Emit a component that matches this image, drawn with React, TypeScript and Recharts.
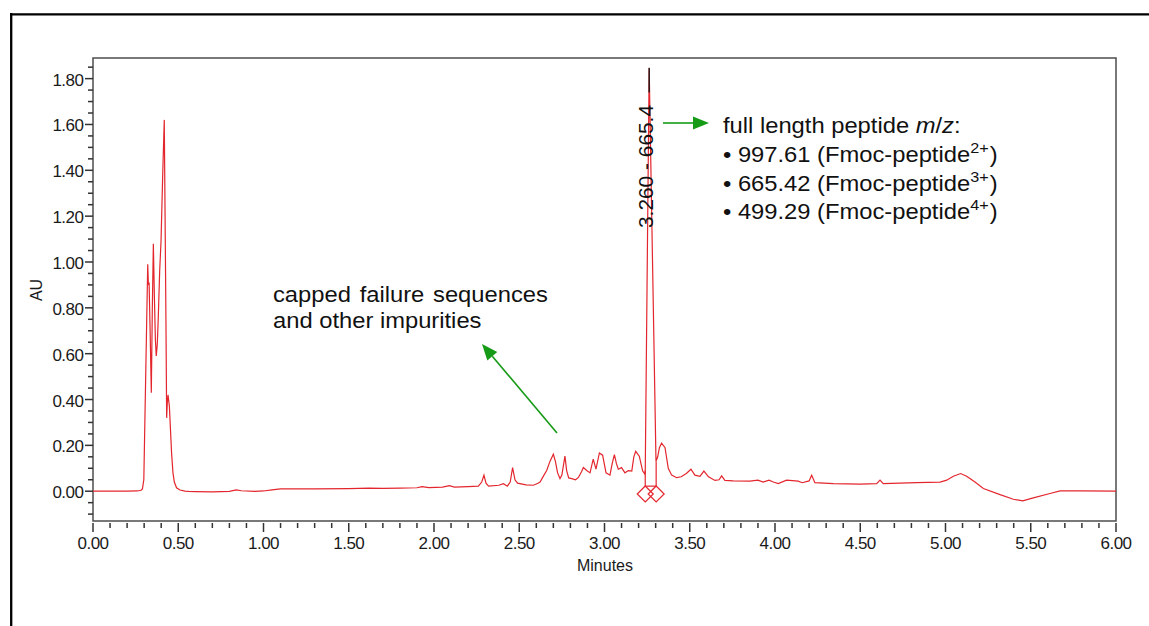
import { ComposedChart, Line, XAxis, YAxis, ReferenceArea, ReferenceLine, ReferenceDot } from 'recharts';

// chromatogram trace, [minutes, AU]
const solventFront: [number, number][] = [
  [0.0, 0.0], [0.1, 0.0], [0.2, 0.0], [0.26, 0.001], [0.282, 0.004], [0.29, 0.01], [0.298, 0.05],
  [0.321, 0.99], [0.325, 0.9], [0.329, 0.91], [0.335, 0.7], [0.342, 0.43], [0.348, 0.8], [0.354, 1.08],
  [0.36, 0.85], [0.366, 0.66], [0.371, 0.59], [0.377, 0.64], [0.383, 0.76], [0.391, 0.96], [0.399, 1.09],
  [0.409, 1.385], [0.418, 1.62], [0.424, 1.09], [0.428, 0.73], [0.432, 0.32], [0.436, 0.39], [0.44, 0.42],
  [0.448, 0.37], [0.455, 0.26], [0.461, 0.165], [0.469, 0.08], [0.477, 0.04], [0.49, 0.015], [0.51, 0.005],
  [0.54, 0.0], [0.56, -0.001],
];

const impurityRegion: [number, number][] = [
  [0.6, -0.002], [0.7, -0.003], [0.8, -0.001], [0.84, 0.006], [0.87, 0.002], [0.95, -0.001], [1.0, 0.001],
  [1.05, 0.006], [1.1, 0.01], [1.3, 0.01], [1.5, 0.011], [1.62, 0.013], [1.7, 0.012], [1.8, 0.013],
  [1.9, 0.015], [1.93, 0.02], [1.97, 0.016], [2.05, 0.018], [2.09, 0.024], [2.12, 0.018], [2.2, 0.02],
  [2.26, 0.022], [2.28, 0.04], [2.293, 0.07], [2.305, 0.035], [2.32, 0.022], [2.38, 0.026], [2.407, 0.033],
  [2.43, 0.022], [2.447, 0.04], [2.461, 0.103], [2.475, 0.05], [2.49, 0.035], [2.54, 0.028], [2.583, 0.026],
  [2.61, 0.035], [2.622, 0.04], [2.645, 0.07], [2.661, 0.09], [2.68, 0.13], [2.7, 0.161], [2.712, 0.13],
  [2.725, 0.08], [2.739, 0.055], [2.75, 0.07], [2.768, 0.153], [2.778, 0.09], [2.79, 0.058], [2.808, 0.055],
  [2.83, 0.05], [2.847, 0.06], [2.865, 0.085], [2.876, 0.103], [2.896, 0.09], [2.915, 0.08], [2.934, 0.14],
  [2.95, 0.096], [2.97, 0.167], [2.989, 0.157], [3.009, 0.08], [3.032, 0.07], [3.045, 0.12], [3.058, 0.16],
  [3.07, 0.12], [3.081, 0.096], [3.1, 0.103], [3.12, 0.08], [3.14, 0.09], [3.16, 0.088], [3.172, 0.15],
  [3.183, 0.174], [3.204, 0.153], [3.224, 0.088], [3.236, 0.075],
];

const mainPeak: [number, number][] = [
  [3.239, 0.09], [3.262, 1.845], [3.302, 0.13],
];

const lateRegion: [number, number][] = [
  [3.312, 0.15], [3.322, 0.19], [3.335, 0.21], [3.355, 0.19], [3.374, 0.1], [3.394, 0.07], [3.423, 0.059],
  [3.45, 0.063], [3.48, 0.077], [3.507, 0.096], [3.53, 0.07], [3.56, 0.065], [3.583, 0.088], [3.61, 0.063],
  [3.648, 0.047], [3.672, 0.05], [3.687, 0.067], [3.706, 0.047], [3.755, 0.045], [3.853, 0.044], [3.9, 0.048],
  [3.93, 0.04], [3.965, 0.048], [3.99, 0.04], [4.019, 0.033], [4.068, 0.048], [4.136, 0.044], [4.16, 0.037],
  [4.2, 0.045], [4.215, 0.07], [4.234, 0.037], [4.342, 0.033], [4.499, 0.031], [4.596, 0.033], [4.616, 0.048],
  [4.635, 0.033], [4.831, 0.037], [4.968, 0.04], [5.007, 0.048], [5.046, 0.065], [5.089, 0.077], [5.124, 0.065],
  [5.173, 0.04], [5.222, 0.012], [5.32, -0.015], [5.398, -0.035], [5.453, -0.042], [5.515, -0.029],
  [5.613, -0.01], [5.672, 0.001], [5.8, 0.001], [6.0, 0.0],
];

// integration markers for the main peak
const peakMarkers = [3.239, 3.303];
const peakDrop = [0.09, 0.13];
const integrationLevel = 0.022;
const markerLevel = -0.012;
const apexTime = 3.262;
const apexTip = [1.74, 1.848];

const xMajorTicks = [0, 0.5, 1, 1.5, 2, 2.5, 3, 3.5, 4, 4.5, 5, 5.5, 6];
const yMajorTicks = [0, 0.2, 0.4, 0.6, 0.8, 1.0, 1.2, 1.4, 1.6, 1.8];
const xTicks = Array.from({ length: 61 }, (_, i) => +(i * 0.1).toFixed(1));
const yTicks = Array.from({ length: 40 }, (_, i) => +(-0.1 + i * 0.05).toFixed(2));

const chromData = [...solventFront, ...impurityRegion, ...mainPeak, ...lateRegion].map(([t, au]) => ({ t, au }));

const FONT = "'Liberation Sans', Arial, sans-serif";
const RED = '#e3262d';
const GREEN = '#169b16';

const isIn = (list: number[], v: number) => list.some((m) => Math.abs(m - v) < 1e-6);

function XTick(props: any) {
  const { x, y, payload } = props;
  const v: number = payload.value;
  const major = isIn(xMajorTicks, v);
  return (
    <g>
      <line x1={x} x2={x} y1={y + 2} y2={y + (major ? 11 : 7)} stroke="#333" strokeWidth={1.5} />
      {major && (
        <text x={x} y={y + 27.5} textAnchor="middle" fontSize={17} letterSpacing={-0.5} fill="#1a1a1a" fontFamily={FONT}>
          {v.toFixed(2)}
        </text>
      )}
    </g>
  );
}

function YTick(props: any) {
  const { x, y, payload } = props;
  const v: number = payload.value;
  const major = isIn(yMajorTicks, v);
  return (
    <g>
      <line x1={x - (major ? 8 : 5)} x2={x} y1={y} y2={y} stroke="#333" strokeWidth={1.5} />
      {major && (
        <text x={x - 9.5} y={y + 7} textAnchor="end" fontSize={17} letterSpacing={-0.5} fill="#1a1a1a" fontFamily={FONT}>
          {v.toFixed(2)}
        </text>
      )}
    </g>
  );
}

const diamond = (p: any) => (
  <path
    d={`M${p.cx},${p.cy - 8} L${p.cx + 8},${p.cy} L${p.cx},${p.cy + 8} L${p.cx - 8},${p.cy} Z`}
    fill="none"
    stroke={RED}
    strokeWidth={1.2}
  />
);

function Arrow({ x1, y1, x2, y2 }: { x1: number; y1: number; x2: number; y2: number }) {
  const len = Math.hypot(x2 - x1, y2 - y1);
  const ux = (x2 - x1) / len;
  const uy = (y2 - y1) / len;
  const bx = x2 - ux * 16;
  const by = y2 - uy * 16;
  const px = -uy * 6.5;
  const py = ux * 6.5;
  return (
    <g>
      <line x1={x1} y1={y1} x2={bx} y2={by} stroke={GREEN} strokeWidth={1.6} />
      <polygon points={`${x2},${y2} ${bx + px},${by + py} ${bx - px},${by - py}`} fill={GREEN} />
    </g>
  );
}

function Sup({ children }: { children: string }) {
  return (
    <>
      <tspan fontSize={15} dy={-9}>{children}</tspan>
      <tspan dy={9} dx={1}>)</tspan>
    </>
  );
}

export default function App() {
  return (
    <div style={{ position: 'relative', width: 1149, height: 626, overflow: 'hidden', background: '#fff' }}>
      <style>{'body{margin:0;overflow:hidden}'}</style>
      <ComposedChart width={1149} height={626} data={chromData} margin={{ top: 58, right: 33, bottom: 0, left: 0 }}>
        <XAxis
          dataKey="t"
          type="number"
          domain={[0, 6]}
          ticks={xTicks}
          interval={0}
          tickSize={0}
          tickMargin={0}
          axisLine={false}
          tickLine={false}
          tick={XTick}
          height={105}
        />
        <YAxis
          type="number"
          domain={[-0.13, 1.89]}
          ticks={yTicks}
          interval={0}
          tickSize={0}
          tickMargin={0}
          axisLine={false}
          tickLine={false}
          tick={YTick}
          width={93}
        />
        <ReferenceArea x1={0} x2={6} y1={-0.13} y2={1.89} fill="none" stroke="#4d4d4d" strokeWidth={1.5} ifOverflow="visible" />
        <Line type="linear" dataKey="au" stroke={RED} strokeWidth={1.2} dot={false} isAnimationActive={false} />
        <ReferenceLine
          segment={[{ x: peakMarkers[0], y: integrationLevel }, { x: peakMarkers[1], y: integrationLevel }]}
          stroke={RED}
          strokeWidth={1.2}
          ifOverflow="visible"
        />
        {peakMarkers.map((m, i) => (
          <ReferenceLine
            key={'d' + i}
            segment={[{ x: m, y: integrationLevel }, { x: m, y: peakDrop[i] }]}
            stroke={RED}
            strokeWidth={1.2}
            ifOverflow="visible"
          />
        ))}
        {peakMarkers.map((m, i) => (
          <ReferenceDot key={'m' + i} x={m} y={markerLevel} r={8} shape={diamond} ifOverflow="visible" />
        ))}
        <ReferenceLine
          segment={[{ x: apexTime, y: apexTip[0] }, { x: apexTime, y: apexTip[1] }]}
          stroke="#111"
          strokeWidth={1.3}
          ifOverflow="visible"
        />
      </ComposedChart>

      <svg width={1149} height={626} style={{ position: 'absolute', left: 0, top: 0, pointerEvents: 'none' }} fontFamily={FONT}>
        <line x1={11.2} y1={13} x2={11.2} y2={626} stroke="#000" strokeWidth={2.3} />
        <line x1={10} y1={14.3} x2={1149} y2={14.3} stroke="#000" strokeWidth={2.3} />

        <text transform="translate(42.4,290) rotate(-90)" textAnchor="middle" fontSize={16} fill="#1a1a1a">AU</text>
        <text x={605} y={570.5} textAnchor="middle" fontSize={16} fill="#1a1a1a">Minutes</text>

        <text
          transform="translate(653,166.5) rotate(-90)"
          textAnchor="middle"
          fontSize={20}
          fill="#111"
          textLength={123}
          lengthAdjust="spacingAndGlyphs"
        >
          3.260 - 665.4
        </text>

        <Arrow x1={663} y1={123} x2={709} y2={123} />
        <Arrow x1={557} y1={433} x2={482} y2={344} />

        <g fontSize={22} fill="#111">
          <text transform="translate(723,133.3) scale(1.08,1)">
            full length peptide <tspan fontStyle="italic">m</tspan>/<tspan fontStyle="italic">z</tspan>:
          </text>
          <text transform="translate(723,161.7) scale(1.08,1)">
            • 997.61 (Fmoc-peptide<Sup>2+</Sup>
          </text>
          <text transform="translate(723,190.7) scale(1.08,1)">
            • 665.42 (Fmoc-peptide<Sup>3+</Sup>
          </text>
          <text transform="translate(723,219.3) scale(1.08,1)">
            • 499.29 (Fmoc-peptide<Sup>4+</Sup>
          </text>
          <text transform="translate(273,301.7) scale(1.08,1)" wordSpacing={2}>
            capped failure sequences
          </text>
          <text transform="translate(273,328.3) scale(1.08,1)">and other impurities</text>
        </g>
      </svg>
    </div>
  );
}
